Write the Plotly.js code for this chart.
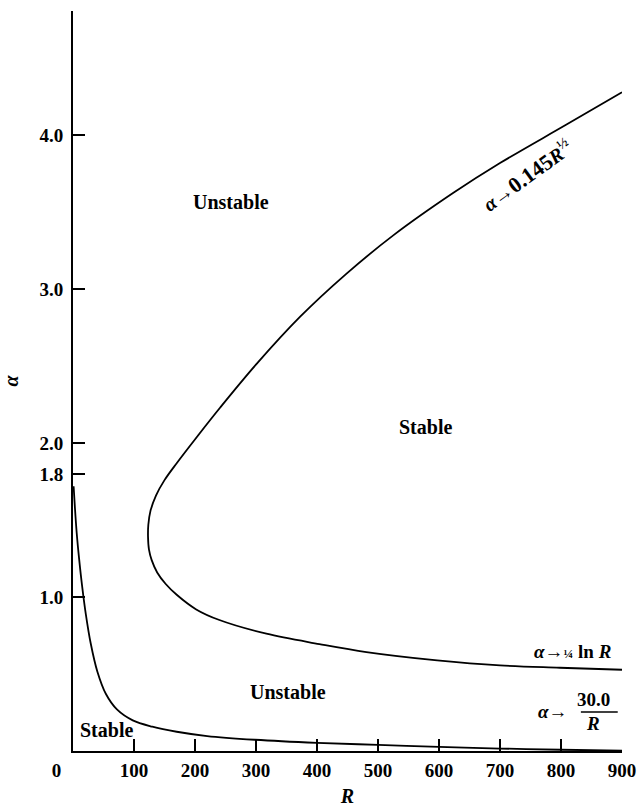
<!DOCTYPE html>
<html>
<head>
<meta charset="utf-8">
<script src="https://cdn.plot.ly/plotly-3.0.1.min.js"></script>
<style>
  html, body { margin: 0; padding: 0; background: #fff; }
  #chart { width: 637px; height: 807px; }
</style>
</head>
<body>
<div id="chart"></div>
<script>
// Neutral stability curve (upper branch -> nose -> lower branch)
const R_neutral = [900, 809, 700, 623, 525, 448, 372, 301, 241, 205, 170, 150, 136, 127, 123.5, 123, 124.5, 129, 138, 152, 170, 202, 240, 317, 404, 481, 597, 700, 798, 900];
const alpha_neutral = [4.28, 4.07, 3.82, 3.625, 3.35, 3.10, 2.82, 2.515, 2.23, 2.05, 1.87, 1.76, 1.66, 1.56, 1.47, 1.39, 1.31, 1.24, 1.16, 1.085, 1.015, 0.92, 0.851, 0.762, 0.695, 0.643, 0.589, 0.556, 0.541, 0.528];

// Second neutral curve hugging the axes
const R_lowcurve = [1, 3, 6, 10, 15, 21, 29, 40, 54, 72, 98, 130, 170, 220, 298, 400, 500, 600, 700, 800, 900];
const alpha_lowcurve = [1.72, 1.59, 1.42, 1.25, 1.07, 0.89, 0.70, 0.515, 0.37, 0.27, 0.199, 0.158, 0.125, 0.097, 0.073, 0.053, 0.040, 0.027, 0.016, 0.008, 0.002];

// Axis ticks
const xTickVals = [0, 100, 200, 300, 400, 500, 600, 700, 800, 900];
const xTickText = ['0\u00a0\u00a0\u00a0\u00a0\u00a0\u00a0\u00a0', '100', '200', '300', '400', '500', '600', '700', '800', '900'];
const yTickVals = [1.0, 1.8, 2.0, 3.0, 4.0];
const yTickText = ['1.0', '1.8', '2.0', '3.0', '4.0'];

const SERIF = 'Liberation Serif, Times New Roman, serif';
const lineStyle = { color: '#000', width: 1.8, shape: 'spline', smoothing: 1 };

const traces = [
  { x: R_neutral, y: alpha_neutral, mode: 'lines', line: lineStyle, hoverinfo: 'skip' },
  { x: R_lowcurve, y: alpha_lowcurve, mode: 'lines', line: lineStyle, hoverinfo: 'skip' }
];

const labelFont = { family: SERIF, size: 20, color: '#000', weight: 'bold' };
const mathFont = { family: SERIF, size: 19, color: '#000', weight: 'bold' };

function note(x, y, text, font, extra) {
  return Object.assign({ x: x, y: y, xref: 'x', yref: 'y', text: text, showarrow: false, font: font }, extra || {});
}

const annotations = [
  note(258.5, 3.565, 'Unstable', labelFont),
  note(577.7, 2.103, 'Stable', labelFont),
  note(352, 0.383, 'Unstable', labelFont),
  note(54.7, 0.138, 'Stable', labelFont),
  note(744, 3.74, '<i>α</i>\u2192<span style="font-size:22px">0.145</span><i>R</i><sup>½</sup>', { family: SERIF, size: 20, color: '#000', weight: 'bold' }, { textangle: -36 }),
  note(885, 0.649, '<i>α</i>\u2192<span style="font-size:13px">¼</span> ln <i>R</i>', mathFont, { xanchor: 'right' }),
  note(814, 0.257, '<i>α</i>\u2192', mathFont, { xanchor: 'right' }),
  note(852.5, 0.332, '30.0', mathFont),
  note(852.5, 0.179, '<i>R</i>', mathFont)
];

const shapes = [
  // fraction bar of 30.0/R
  { type: 'line', xref: 'x', yref: 'y', x0: 832.6, x1: 893, y0: 0.254, y1: 0.254, line: { color: '#000', width: 1.5 } }
];

const layout = {
  width: 637,
  height: 807,
  margin: { l: 73, r: 15, t: 11, b: 56 },
  paper_bgcolor: '#fff',
  plot_bgcolor: '#fff',
  showlegend: false,
  xaxis: {
    range: [0, 900],
    showgrid: false,
    zeroline: false,
    showline: true,
    linecolor: '#000',
    linewidth: 2,
    ticks: 'inside',
    ticklen: 12,
    tickwidth: 2,
    tickcolor: '#000',
    tickvals: xTickVals,
    ticktext: xTickText,
    tickfont: { family: SERIF, size: 19, color: '#000', weight: 'bold' },
    ticklabelstandoff: 1,
    title: { text: '<i>R</i>', font: { family: SERIF, size: 20, color: '#000', weight: 'bold' }, standoff: 10 }
  },
  yaxis: {
    range: [0, 4.808],
    showgrid: false,
    zeroline: false,
    showline: true,
    linecolor: '#000',
    linewidth: 2,
    ticks: 'inside',
    ticklen: 12,
    tickwidth: 2,
    tickcolor: '#000',
    tickvals: yTickVals,
    ticktext: yTickText,
    tickfont: { family: SERIF, size: 19, color: '#000', weight: 'bold' },
    ticklabelstandoff: 4,
    title: { text: '<i>α</i>', font: { family: SERIF, size: 20, color: '#000', weight: 'bold' }, standoff: 16 }
  },
  annotations: annotations,
  shapes: shapes
};

Plotly.newPlot('chart', traces, layout, { displayModeBar: false, staticPlot: true });
</script>
</body>
</html>
